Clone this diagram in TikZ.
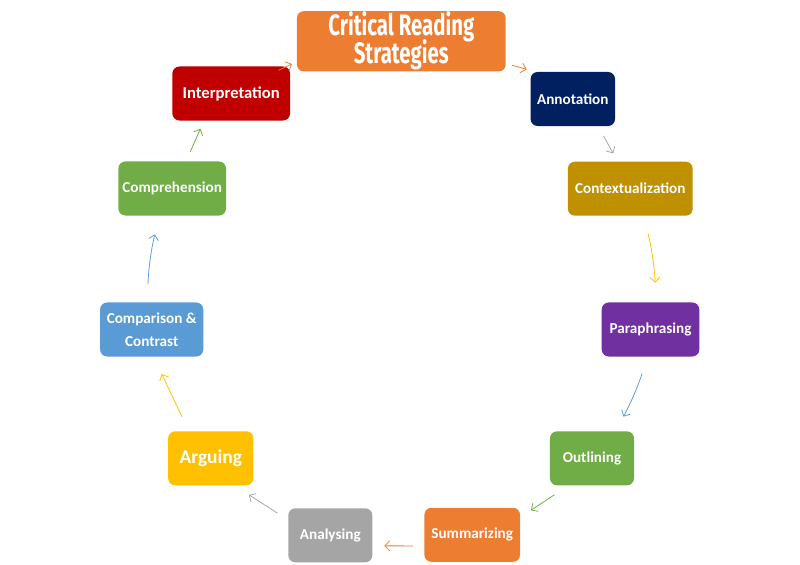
\documentclass[tikz,border=0pt]{standalone}
\usepackage{fontspec}
\setmainfont{Carlito}
\newfontfamily\headfont{Fira Sans}
\usepackage{tikz}
\usetikzlibrary{arrows.meta}
\definecolor{offOrange}{RGB}{237,125,49}
\definecolor{offNavy}{RGB}{0,32,96}
\definecolor{offGold}{RGB}{191,144,0}
\definecolor{offPurple}{RGB}{112,48,160}
\definecolor{offGreen}{RGB}{112,173,71}
\definecolor{offGray}{RGB}{165,165,165}
\definecolor{offYellow}{RGB}{255,192,0}
\definecolor{offBlue}{RGB}{91,155,213}
\definecolor{offRed}{RGB}{192,0,0}

\begin{document}
\begin{tikzpicture}[
  x=0.025cm, y=-0.025cm,
  stage/.style={rounded corners=5pt, minimum height=1.35cm, inner sep=0pt,
    text=white, align=center, font=\fontsize{10.8}{16}\selectfont\bfseries},
  flow/.style={-{Straight Barb[length=3.5pt,width=7pt]}, line width=0.55pt},
]
  \useasboundingbox (0,0) rectangle (800,564);

  % boxes, clockwise from the top
  \node[stage, fill=offOrange, minimum width=5.22cm] (title) at (401.3,41.3)
    {\headfont\fontsize{21}{18}\selectfont\scalebox{0.69}[1]{\begin{tabular}{@{}c@{}}Critical Reading\\[-2pt]Strategies\end{tabular}}};
  \node[stage, fill=offNavy,   minimum width=2.11cm] (anno)   at (572.8,99)    {Annotation};
  \node[stage, fill=offGold,   minimum width=3.12cm] (ctx)    at (630.3,188.7) {Contextualization};
  \node[stage, fill=offPurple, minimum width=2.44cm] (para)   at (650.5,329.5) {Paraphrasing};
  \node[stage, fill=offGreen,  minimum width=2.10cm] (outl)   at (592,458.3)   {Outlining};
  \node[stage, fill=offOrange, minimum width=2.39cm] (summ)   at (472.2,534.8) {Summarizing};
  \node[stage, fill=offGray,   minimum width=2.10cm] (anal)   at (330.3,535.3) {Analysing};
  \node[stage, fill=offYellow, minimum width=2.13cm,
        font=\fontsize{13.8}{16}\selectfont\bfseries]  (argu)   at (210.8,458.3) {Arguing};
  \node[stage, fill=offBlue,   minimum width=2.58cm] (compa)  at (151.7,329.5) {Comparison \&\\Contrast};
  \node[stage, fill=offGreen,  minimum width=2.69cm] (compr)  at (172.2,188.5) {Comprehension};
  \node[stage, fill=offRed,    minimum width=2.94cm,
        font=\fontsize{11.8}{16}\selectfont\bfseries]  (interp) at (231.2,93.5)  {Interpretation};

  % arrows
  \draw[flow, draw=offOrange, shorten <=4.4pt,  shorten >=6.3pt]  (title.-12)  -- (anno.144);
  \draw[flow, draw=offGray,   shorten <=7.8pt,  shorten >=6.5pt]  (anno.-47)   -- (ctx.115);
  \draw[flow, draw=offYellow, shorten <=13pt,   shorten >=13.9pt] (ctx.-64)    to[bend left=6]  (para.79);
  \draw[flow, draw=offBlue,   shorten <=12.6pt, shorten >=11.6pt] (para.-96)   to[bend left=5]  (outl.49);
  \draw[flow, draw=offGreen,  shorten <=11.7pt, shorten >=9.1pt]  (outl.-131)  -- (summ.20);
  \draw[flow, draw=offOrange, shorten <=8pt,    shorten >=8.3pt]  (summ.193)   -- (anal.-14);
  \draw[flow, draw=offGray,   shorten <=9pt,    shorten >=12.2pt] (anal.160)   -- (argu.-49);
  \draw[flow, draw=offYellow, shorten <=11.2pt, shorten >=13.6pt] (argu.129)   -- (compa.-86);
  \draw[flow, draw=offBlue,   shorten <=12.9pt, shorten >=13.6pt] (compa.99)   to[bend left=6]  (compr.-115);
  \draw[flow, draw=offGreen,  shorten <=7.2pt,  shorten >=6.2pt]  (compr.63)   -- (interp.-135);
  \draw[flow, draw=offOrange, shorten <=-6.8pt, shorten >=3.7pt]  (interp.26)  -- (title.191);
\end{tikzpicture}
\end{document}
